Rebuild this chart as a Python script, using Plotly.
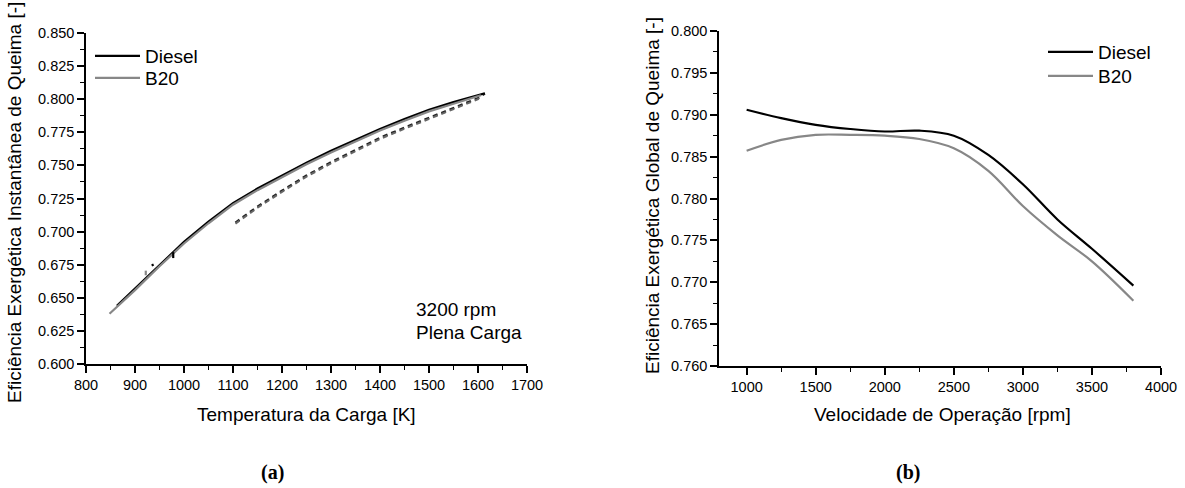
import plotly.graph_objects as go

W, H = 1185, 488

# ---------------- Data: panel (a) ----------------
diesel_T = [863, 900, 950, 1000, 1050, 1100, 1150, 1200, 1250, 1300, 1350, 1400, 1450, 1500, 1550, 1600, 1614]
diesel_eta = [0.6440, 0.6570, 0.6750, 0.6922, 0.7075, 0.7215, 0.7325, 0.7425, 0.7520, 0.7610, 0.7695,
              0.7775, 0.7850, 0.7920, 0.7978, 0.8033, 0.8045]
b20_T = [848, 900, 950, 1000, 1050, 1100, 1150, 1200, 1250, 1300, 1350, 1400, 1450, 1500, 1550, 1600, 1606]
b20_eta = [0.6380, 0.6558, 0.6738, 0.6910, 0.7063, 0.7203, 0.7313, 0.7413, 0.7508, 0.7598, 0.7683,
           0.7763, 0.7838, 0.7908, 0.7966, 0.8021, 0.8030]
# return branch (dashed)
diesel_ret_T = [1105, 1150, 1200, 1250, 1300, 1350, 1400, 1450, 1500, 1530, 1560, 1600, 1614]
diesel_ret_eta = [0.7068, 0.7188, 0.7308, 0.7423, 0.7523, 0.7618, 0.7708, 0.7785, 0.7862, 0.7903, 0.7948, 0.8008, 0.8043]
b20_ret_T = [1105, 1150, 1200, 1250, 1300, 1350, 1400, 1450, 1500, 1530, 1560, 1600, 1606]
b20_ret_eta = [0.7060, 0.7180, 0.7300, 0.7415, 0.7515, 0.7610, 0.7700, 0.7777, 0.7854, 0.7895, 0.7940, 0.8000, 0.8028]
# small artefacts on the curves
diesel_blip1_T = [935, 937]
diesel_blip1_eta = [0.6755, 0.6740]
diesel_blip2_T = [978, 978]
diesel_blip2_eta = [0.6845, 0.6800]
b20_blip_T = [922, 922]
b20_blip_eta = [0.6705, 0.6670]

# ---------------- Data: panel (b) ----------------
rpm = [1000, 1250, 1500, 1750, 2000, 2250, 2500, 2750, 3000, 3250, 3500, 3800]
diesel_global = [0.7906, 0.7896, 0.7888, 0.7883, 0.7880, 0.7881, 0.7875, 0.7852, 0.7817, 0.7775, 0.7740, 0.7696]
b20_global = [0.7857, 0.7870, 0.7876, 0.7876, 0.7875, 0.7871, 0.7860, 0.7833, 0.7791, 0.7756, 0.7725, 0.7678]

BLACK = "#000000"
GRAY = "#878787"
FONT = "Liberation Sans, Arial, Helvetica, sans-serif"


def px(x):
    return x / W


def py(y):
    return 1 - y / H


fig = go.Figure()

# panel (a)
fig.add_trace(go.Scatter(x=diesel_ret_T, y=diesel_ret_eta, mode="lines", showlegend=False,
                         line=dict(color="#222222", width=2.4, dash="5px,4px"), xaxis="x", yaxis="y"))
fig.add_trace(go.Scatter(x=b20_ret_T, y=b20_ret_eta, mode="lines", showlegend=False,
                         line=dict(color="#666666", width=2.0, dash="5px,4px"), xaxis="x", yaxis="y"))
fig.add_trace(go.Scatter(x=diesel_T, y=diesel_eta, mode="lines", name="Diesel", legend="legend",
                         line=dict(color=BLACK, width=2.2), xaxis="x", yaxis="y"))
fig.add_trace(go.Scatter(x=b20_T, y=b20_eta, mode="lines", name="B20", legend="legend2",
                         line=dict(color=GRAY, width=2.2), xaxis="x", yaxis="y"))
for bx, by, col in [(diesel_blip1_T, diesel_blip1_eta, BLACK), (diesel_blip2_T, diesel_blip2_eta, BLACK),
                    (b20_blip_T, b20_blip_eta, GRAY)]:
    fig.add_trace(go.Scatter(x=bx, y=by, mode="lines", showlegend=False,
                             line=dict(color=col, width=2.2), xaxis="x", yaxis="y"))

# panel (b)
fig.add_trace(go.Scatter(x=rpm, y=diesel_global, mode="lines", name="Diesel", legend="legend3",
                         line=dict(color=BLACK, width=2.2, shape="spline", smoothing=1.0), xaxis="x2", yaxis="y2"))
fig.add_trace(go.Scatter(x=rpm, y=b20_global, mode="lines", name="B20", legend="legend4",
                         line=dict(color=GRAY, width=2.2, shape="spline", smoothing=1.0), xaxis="x2", yaxis="y2"))

axis_common = dict(showgrid=False, zeroline=False, showline=True, linecolor=BLACK, linewidth=1.5,
                   ticks="outside", ticklen=7, tickwidth=1.5, tickcolor=BLACK, automargin=False,
                   tickfont=dict(family=FONT, size=14.5, color=BLACK))


def leg(x, y):
    return dict(x=px(x), y=py(y), xanchor="left", yanchor="middle", bgcolor="rgba(0,0,0,0)",
                font=dict(family=FONT, size=19, color=BLACK), itemwidth=45)


fig.update_layout(
    width=W, height=H, autosize=False,
    margin=dict(l=0, r=0, t=0, b=0),
    paper_bgcolor="white", plot_bgcolor="white",
    xaxis=dict(domain=[px(86), px(527)], range=[800, 1700], tick0=800, dtick=100, anchor="y",
               minor=dict(dtick=50, ticks="outside", ticklen=4, tickwidth=1.2, tickcolor=BLACK),
               **axis_common),
    yaxis=dict(domain=[py(364), py(33)], range=[0.6, 0.85], tick0=0.6, dtick=0.025, tickformat=".3f",
               anchor="x",
               minor=dict(dtick=0.0125, ticks="outside", ticklen=4, tickwidth=1.2, tickcolor=BLACK),
               **axis_common),
    xaxis2=dict(domain=[px(719), px(1161)], range=[800, 4000], tick0=0, dtick=500, anchor="y2",
                minor=dict(dtick=250, ticks="outside", ticklen=4, tickwidth=1.2, tickcolor=BLACK),
                **axis_common),
    yaxis2=dict(domain=[py(366), py(31)], range=[0.76, 0.80], tick0=0.76, dtick=0.005, tickformat=".3f",
                anchor="x2",
                minor=dict(dtick=0.0025, ticks="outside", ticklen=4, tickwidth=1.2, tickcolor=BLACK),
                **axis_common),
    legend=leg(90, 56),
    legend2=leg(90, 78),
    legend3=leg(1043, 52),
    legend4=leg(1043, 76),
)

ann = []
# axis titles
ann.append(dict(text="Temperatura da Carga [K]", x=px(306), y=py(414), xref="paper", yref="paper",
                xanchor="center", yanchor="middle", showarrow=False, font=dict(family=FONT, size=19, color=BLACK)))
ann.append(dict(text="Velocidade de Operação [rpm]", x=px(942), y=py(414), xref="paper", yref="paper",
                xanchor="center", yanchor="middle", showarrow=False, font=dict(family=FONT, size=19, color=BLACK)))
ann.append(dict(text="Eficiência Exergética Instantânea de Queima [-]", x=px(15), y=py(203), xref="paper",
                yref="paper", xanchor="center", yanchor="middle", textangle=-90, showarrow=False,
                font=dict(family=FONT, size=19, color=BLACK)))
ann.append(dict(text="Eficiência Exergética Global de Queima [-]", x=px(652), y=py(196), xref="paper",
                yref="paper", xanchor="center", yanchor="middle", textangle=-90, showarrow=False,
                font=dict(family=FONT, size=19, color=BLACK)))
# in-plot notes
ann.append(dict(text="3200 rpm", x=px(414), y=py(309), xref="paper", yref="paper", xanchor="left",
                yanchor="middle", showarrow=False, font=dict(family=FONT, size=19, color=BLACK)))
ann.append(dict(text="Plena Carga", x=px(414), y=py(332), xref="paper", yref="paper", xanchor="left",
                yanchor="middle", showarrow=False, font=dict(family=FONT, size=19, color=BLACK)))
# panel labels
ann.append(dict(text="<b>(a)</b>", x=px(272), y=py(472), xref="paper", yref="paper", xanchor="center",
                yanchor="middle", showarrow=False,
                font=dict(family="Liberation Serif, Times New Roman, serif", size=20, color=BLACK)))
ann.append(dict(text="<b>(b)</b>", x=px(908), y=py(472), xref="paper", yref="paper", xanchor="center",
                yanchor="middle", showarrow=False,
                font=dict(family="Liberation Serif, Times New Roman, serif", size=20, color=BLACK)))
fig.update_layout(annotations=ann)

fig.write_html("out.html", config={"displayModeBar": False},
               post_script="document.body.style.margin='0';document.body.style.overflow='hidden';")
